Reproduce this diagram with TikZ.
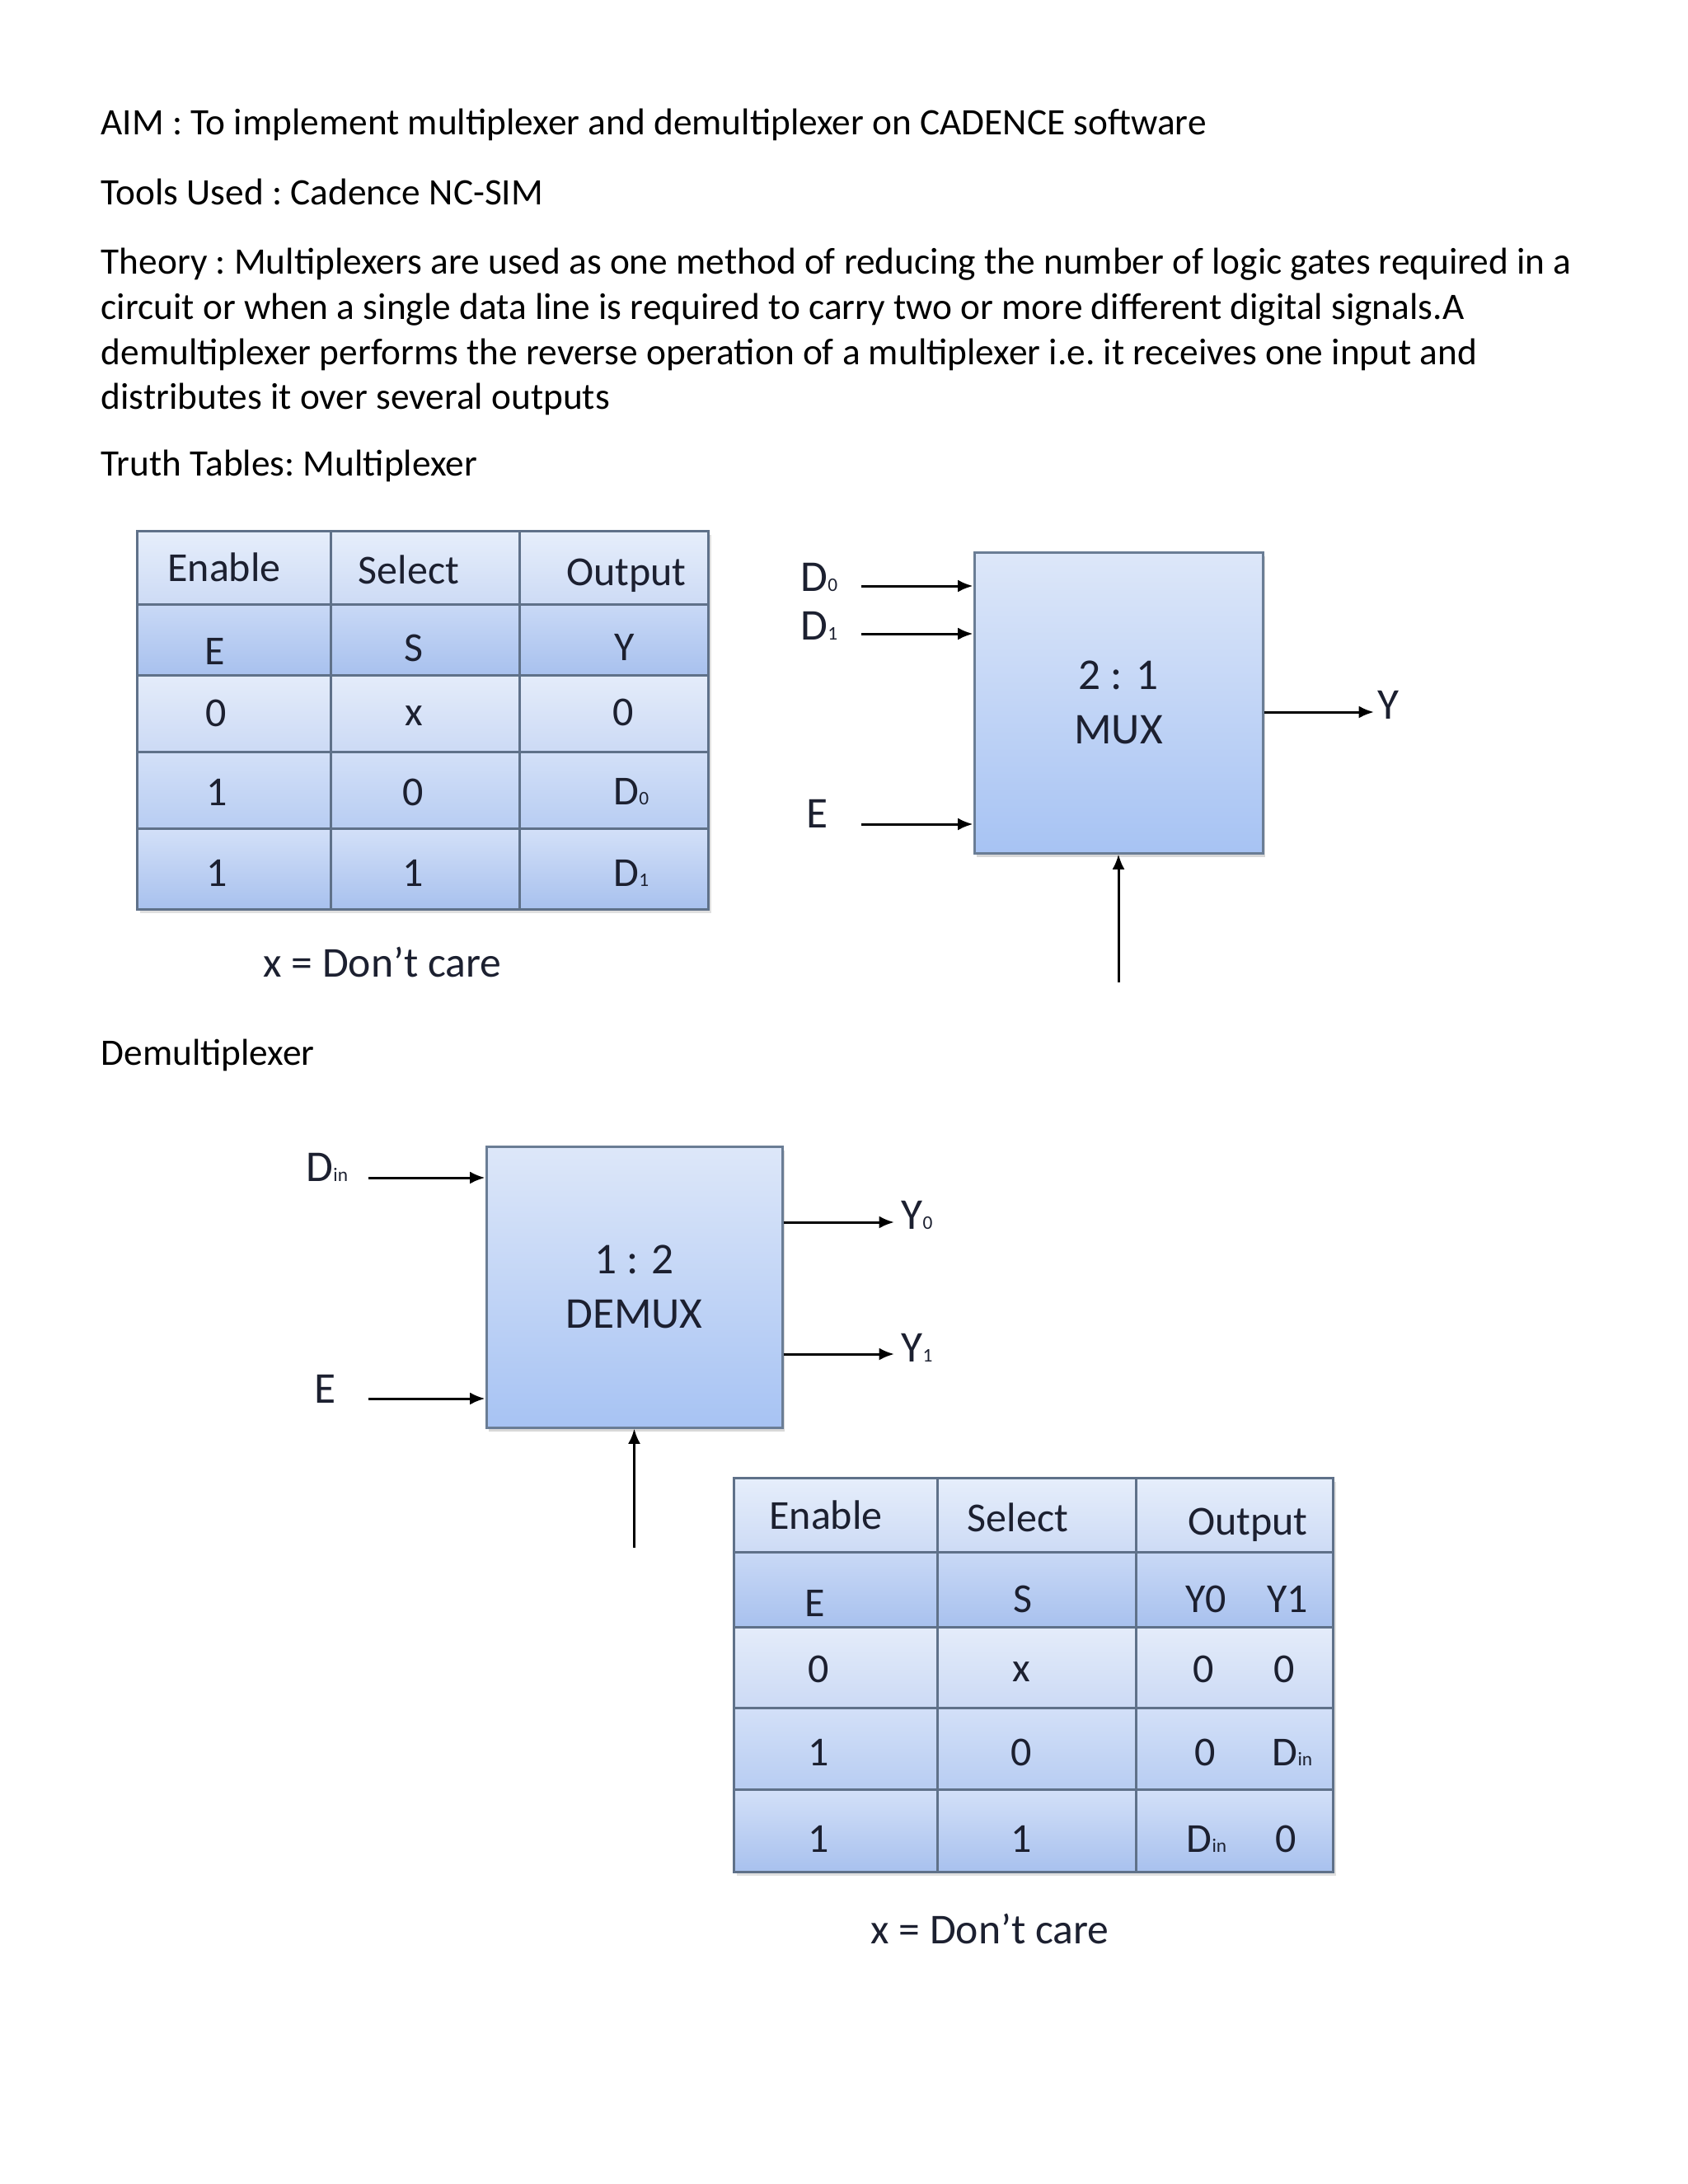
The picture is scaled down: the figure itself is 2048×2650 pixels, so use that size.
\documentclass[tikz,border=0pt]{standalone}
\usepackage{fontspec}
\setmainfont{Carlito}
\usetikzlibrary{arrows.meta, shadows}
\definecolor{gridline}{HTML}{5F7189}
\definecolor{boxline}{HTML}{6A7D95}
\definecolor{boxtop}{HTML}{DDE7F9}
\definecolor{boxbottom}{HTML}{A7C3F3}
\definecolor{hdtop}{HTML}{E6EEFB}
\definecolor{hdbottom}{HTML}{CDDBF5}
\definecolor{darktop}{HTML}{C9D9F6}
\definecolor{darkbottom}{HTML}{A8C1EE}
\definecolor{lighttop}{HTML}{E4ECFA}
\definecolor{lightbottom}{HTML}{CCDAF5}
\definecolor{midtop}{HTML}{D3E0F8}
\definecolor{midbottom}{HTML}{B8CDF2}
\definecolor{ink}{HTML}{1C2030}
\newcommand{\sbs}[1]{{\scriptsize #1}}

\begin{document}
\begin{tikzpicture}[x=0.3pt, y=-0.3pt]
        \tikzstyle{body} = [anchor=base west, inner sep=0pt, font=\fontsize{13.6}{16}\selectfont\frenchspacing]
        \tikzstyle{cell} = [anchor=base, inner sep=0pt, text=ink, font=\fontsize{15}{18}\selectfont]
        \tikzstyle{port} = [anchor=base west, inner sep=0pt, text=ink, font=\fontsize{16}{19}\selectfont]
        \tikzstyle{note} = [anchor=base, inner sep=0pt, text=ink, font=\fontsize{15.5}{18}\selectfont]
        \tikzstyle{block} = [rectangle, draw=boxline, line width=0.9pt, top color=boxtop, bottom color=boxbottom, align=center, text=ink, font=\fontsize{16}{20}\selectfont, drop shadow={shadow xshift=0.8pt, shadow yshift=-1.5pt, opacity=0.3}]
        \tikzstyle{sig} = [line width=0.9pt, -{Latex[length=5.5pt, width=4.5pt]}]
        \tikzstyle{rule} = [draw=gridline, line width=0.9pt]

        \fill[white] (0,0) rectangle (2048,2650);
        \useasboundingbox (0,0) rectangle (2048,2650);

        % page text
        \node (aim) [body] at (122,163) {AIM : To implement multiplexer and demultiplexer on CADENCE software};
        \node (tools) [body] at (122,248) {Tools Used : Cadence NC-SIM};
        \node (theory1) [body] at (122,332) {Theory : Multiplexers are used as one method of reducing the number of logic gates required in a};
        \node (theory2) [body] at (122,387) {circuit or when a single data line is required to carry two or more different digital signals.A};
        \node (theory3) [body] at (122,442) {demultiplexer performs the reverse operation of a multiplexer i.e. it receives one input and};
        \node (theory4) [body] at (122,496) {distributes it over several outputs};
        \node (truth) [body] at (122,577) {Truth Tables: Multiplexer};
        \node (demuxhead) [body] at (122,1292) {Demultiplexer};

        % multiplexer truth table
        \fill[black!30, opacity=0.4] (170,649) rectangle (863,1108);
        \shade[top color=hdtop, bottom color=hdbottom] (166,644) rectangle (859,733);
        \shade[top color=darktop, bottom color=darkbottom] (166,733) rectangle (859,819);
        \shade[top color=lighttop, bottom color=lightbottom] (166,819) rectangle (859,912);
        \shade[top color=midtop, bottom color=midbottom] (166,912) rectangle (859,1005);
        \shade[top color=midtop, bottom color=darkbottom] (166,1005) rectangle (859,1103);
        \draw[rule] (166,644) rectangle (859,1103);
        \draw[rule] (401,644) -- (401,1103) (630,644) -- (630,1103);
        \draw[rule] (166,733) -- (859,733) (166,819) -- (859,819) (166,912) -- (859,912) (166,1005) -- (859,1005);
        \node (mhen) [cell] at (272,705) {Enable};
        \node (mhsel) [cell] at (496,708) {Select};
        \node (mhout) [cell] at (760,710) {Output};
        \node (mE) [cell] at (261,806) {E};
        \node (mS) [cell] at (502,802) {S};
        \node (mY) [cell] at (758,801) {Y};
        \node (ma1) [cell] at (262,881) {0};
        \node (ma2) [cell] at (502,880) {x};
        \node (ma3) [cell] at (756,880) {0};
        \node (mb1) [cell] at (263,977) {1};
        \node (mb2) [cell] at (501,977) {0};
        \node (mb3) [cell] at (766,976) {D\sbs{0}};
        \node (mc1) [cell] at (263,1075) {1};
        \node (mc2) [cell] at (501,1075) {1};
        \node (mc3) [cell] at (766,1075) {D\sbs{1}};
        \node (mnote) [note] at (464,1185) {x = Don’t care};

        % 2:1 mux
        \node (mux) [block, minimum width=105pt, minimum height=109.5pt] at (1357,852.5) {2 : 1\\MUX};
        \node (md0) [port] at (971,717) {D\sbs{0}};
        \node (md1) [port] at (971,776) {D\sbs{1}};
        \node (men) [port] at (978,1004) {E};
        \node (my) [port] at (1671,872) {Y};
        \coordinate (md0in) at (1045,711);
        \coordinate (md1in) at (1045,769);
        \coordinate (menin) at (1045,1000);
        \coordinate (myout) at (1667,864);
        \coordinate (mselin) at (1357,1192);
        \draw[sig] (md0in) -- (md0in -| mux.west);
        \draw[sig] (md1in) -- (md1in -| mux.west);
        \draw[sig] (menin) -- (menin -| mux.west);
        \draw[sig] (myout -| mux.east) -- (myout);
        \draw[sig] (mselin) -- (mux.south);

        % 1:2 demux
        \node (demux) [block, minimum width=107.7pt, minimum height=102.3pt] at (769.5,1561.5) {1 : 2\\DEMUX};
        \node (ddin) [port] at (371,1433) {D\sbs{in}};
        \node (den) [port] at (381,1702) {E};
        \node (dy0) [port] at (1093,1491) {Y\sbs{0}};
        \node (dy1) [port] at (1093,1652) {Y\sbs{1}};
        \coordinate (ddinin) at (447,1429);
        \coordinate (denin) at (447,1697);
        \coordinate (dy0out) at (1085,1483);
        \coordinate (dy1out) at (1085,1643);
        \coordinate (dselin) at (769.5,1878);
        \draw[sig] (ddinin) -- (ddinin -| demux.west);
        \draw[sig] (denin) -- (denin -| demux.west);
        \draw[sig] (dy0out -| demux.east) -- (dy0out);
        \draw[sig] (dy1out -| demux.east) -- (dy1out);
        \draw[sig] (dselin) -- (demux.south);

        % demultiplexer truth table
        \fill[black!30, opacity=0.4] (894,1798) rectangle (1621,2276);
        \shade[top color=hdtop, bottom color=hdbottom] (890,1793) rectangle (1617,1883);
        \shade[top color=darktop, bottom color=darkbottom] (890,1883) rectangle (1617,1974);
        \shade[top color=lighttop, bottom color=lightbottom] (890,1974) rectangle (1617,2072);
        \shade[top color=midtop, bottom color=midbottom] (890,2072) rectangle (1617,2171);
        \shade[top color=midtop, bottom color=darkbottom] (890,2171) rectangle (1617,2271);
        \draw[rule] (890,1793) rectangle (1617,2271);
        \draw[rule] (1137,1793) -- (1137,2271) (1378,1793) -- (1378,2271);
        \draw[rule] (890,1883) -- (1617,1883) (890,1974) -- (1617,1974) (890,2072) -- (1617,2072) (890,2171) -- (1617,2171);
        \node (dhen) [cell] at (1002,1855) {Enable};
        \node (dhsel) [cell] at (1235,1858) {Select};
        \node (dhout) [cell] at (1514,1862) {Output};
        \node (dE) [cell] at (989,1961) {E};
        \node (dS) [cell] at (1241,1956) {S};
        \node (dY0) [cell] at (1463,1956) {Y0};
        \node (dY1) [cell] at (1562,1956) {Y1};
        \node (da1) [cell] at (993,2041) {0};
        \node (da2) [cell] at (1239,2040) {x};
        \node (da3) [cell] at (1460,2041) {0};
        \node (da4) [cell] at (1558,2041) {0};
        \node (db1) [cell] at (993,2142) {1};
        \node (db2) [cell] at (1239,2142) {0};
        \node (db3) [cell] at (1462,2142) {0};
        \node (db4) [cell] at (1568,2142) {D\sbs{in}};
        \node (dc1) [cell] at (993,2247) {1};
        \node (dc2) [cell] at (1239,2247) {1};
        \node (dc3) [cell] at (1464,2247) {D\sbs{in}};
        \node (dc4) [cell] at (1560,2247) {0};
        \node (dnote) [note] at (1201,2358) {x = Don’t care};
\end{tikzpicture}
\end{document}
